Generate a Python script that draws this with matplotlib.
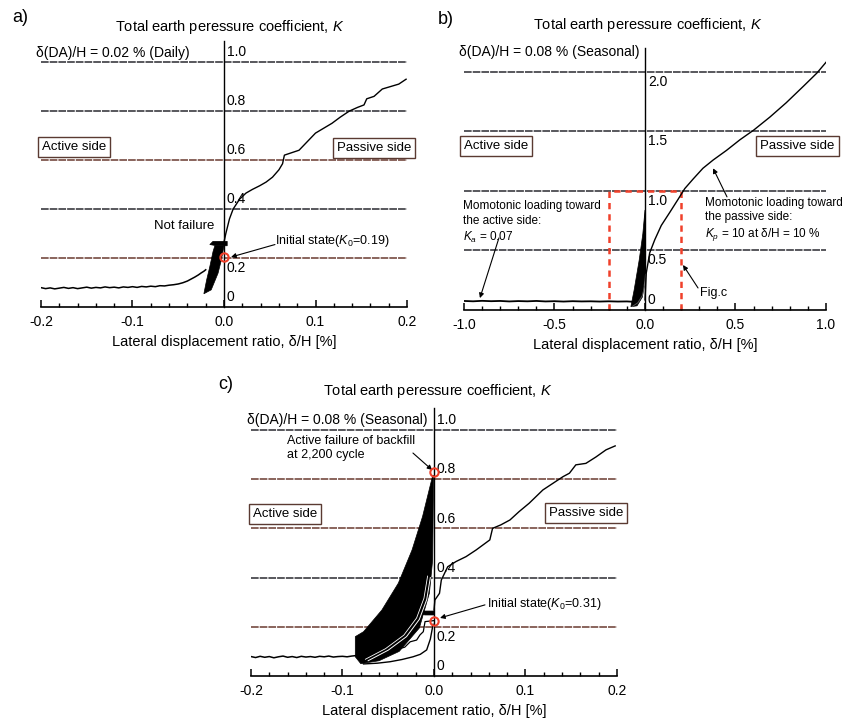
import numpy as np
import matplotlib
matplotlib.use("Agg")
import matplotlib.pyplot as plt

plt.rcParams['font.family'] = ['Liberation Sans', 'DejaVu Sans']
plt.rcParams['mathtext.fontset'] = 'custom'
plt.rcParams['mathtext.rm'] = 'Liberation Sans'
plt.rcParams['mathtext.it'] = 'Liberation Sans:italic'

W, H = 845, 724

# ---------------- data ----------------
# panel a: dDA/H = 0.02 %
grid_a = [0.2, 0.4, 0.6, 0.8, 1.0]
ylab_a = ['0', '0.2', '0.4', '0.6', '0.8', '1.0']
act_a_x = [-0.200, -0.195, -0.190, -0.185, -0.180, -0.175, -0.170, -0.165, -0.160, -0.155,
           -0.150, -0.145, -0.140, -0.135, -0.130, -0.125, -0.120, -0.115, -0.110, -0.105,
           -0.100, -0.095, -0.090, -0.085, -0.080, -0.075, -0.070, -0.065, -0.060, -0.055,
           -0.050, -0.045, -0.040, -0.036, -0.032, -0.028, -0.025, -0.022, -0.020]
act_a_k = [0.079, 0.075, 0.078, 0.074, 0.077, 0.080, 0.076, 0.079, 0.075, 0.078,
           0.081, 0.077, 0.080, 0.078, 0.082, 0.079, 0.081, 0.078, 0.082, 0.080,
           0.083, 0.080, 0.084, 0.082, 0.085, 0.083, 0.087, 0.086, 0.089, 0.091,
           0.094, 0.099, 0.106, 0.114, 0.122, 0.131, 0.139, 0.146, 0.152]
blob_a_x = [-0.022, -0.019, -0.0155, -0.012, -0.010, 0.0, -0.003, -0.0065, -0.014, -0.022]
blob_a_k = [0.054, 0.110, 0.165, 0.226, 0.250, 0.250, 0.190, 0.138, 0.070, 0.054]
flag_a_x = [-0.0155, -0.012, 0.0035, 0.0035, -0.008]
flag_a_k = [0.255, 0.268, 0.268, 0.250, 0.250]
pass_a_x = [0.000, 0.002, 0.004, 0.006, 0.010, 0.017, 0.024, 0.031, 0.039, 0.046, 0.053,
            0.060, 0.064, 0.066, 0.074, 0.082, 0.091, 0.100, 0.109, 0.118, 0.127, 0.137,
            0.146, 0.153, 0.156, 0.164, 0.173, 0.182, 0.191, 0.199]
pass_a_k = [0.265, 0.300, 0.330, 0.360, 0.400, 0.440, 0.465, 0.480, 0.495, 0.510, 0.530,
            0.560, 0.585, 0.620, 0.630, 0.640, 0.675, 0.710, 0.730, 0.750, 0.775, 0.800,
            0.815, 0.825, 0.850, 0.860, 0.890, 0.900, 0.910, 0.930]

# panel b: dDA/H = 0.08 %, monotonic range
grid_b = [0.5, 1.0, 1.5, 2.0]
ylab_b = ['0', '0.5', '1.0', '1.5', '2.0']
act_b_x = [-1.00, -0.95, -0.90, -0.85, -0.80, -0.75, -0.70, -0.65, -0.60, -0.55, -0.50,
           -0.45, -0.40, -0.35, -0.30, -0.25, -0.20, -0.15, -0.10, -0.075]
act_b_k = [0.076, 0.073, 0.077, 0.074, 0.076, 0.072, 0.075, 0.073, 0.076, 0.072, 0.074,
           0.071, 0.074, 0.072, 0.073, 0.071, 0.073, 0.071, 0.072, 0.070]
blob_b_x = [-0.078, -0.060, -0.032, -0.012, 0.000, 0.003, 0.001, -0.014, -0.044, -0.078]
blob_b_k = [0.028, 0.168, 0.420, 0.640, 0.840, 0.550, 0.310, 0.110, 0.035, 0.028]
loop_b_x = [-0.070, -0.040, -0.015, -0.002, 0.004]
loop_b_k = [0.030, 0.060, 0.120, 0.200, 0.300]
pass_b_x = [0.000, 0.007, 0.026, 0.054, 0.090, 0.137, 0.183, 0.220, 0.266, 0.320, 0.377,
            0.450, 0.525, 0.600, 0.690, 0.780, 0.876, 0.950, 1.000]
pass_b_k = [0.085, 0.310, 0.480, 0.590, 0.710, 0.820, 0.930, 1.020, 1.100, 1.190, 1.260,
            1.340, 1.430, 1.510, 1.620, 1.740, 1.880, 1.990, 2.080]
figc_box_x = [-0.2, -0.2, 0.2, 0.2]
figc_box_k = [0.0, 1.0, 1.0, 0.0]

# panel c: dDA/H = 0.08 %, zoom
grid_c = [0.2, 0.4, 0.6, 0.8, 1.0]
ylab_c = ['0', '0.2', '0.4', '0.6', '0.8', '1.0']
act_c_x = [-0.200, -0.195, -0.190, -0.185, -0.180, -0.175, -0.170, -0.165, -0.160, -0.155,
           -0.150, -0.145, -0.140, -0.135, -0.130, -0.125, -0.120, -0.115, -0.110, -0.105,
           -0.100, -0.095, -0.090, -0.085]
act_c_k = [0.079, 0.075, 0.080, 0.076, 0.079, 0.074, 0.078, 0.081, 0.076, 0.079, 0.075,
           0.080, 0.077, 0.079, 0.076, 0.080, 0.078, 0.081, 0.077, 0.079, 0.080, 0.078,
           0.081, 0.083]
blob_c_x = [-0.0014, -0.0125, -0.024, -0.039, -0.057, -0.077, -0.0860, -0.0860, -0.080,
            -0.060, -0.038, -0.016, -0.0050, -0.0015, -0.0004]
blob_c_k = [0.815, 0.648, 0.512, 0.377, 0.268, 0.180, 0.160, 0.078, 0.050,
            0.062, 0.100, 0.195, 0.337, 0.470, 0.815]
white_c_x = [-0.072, -0.050, -0.030, -0.016, -0.008, -0.004]
white_c_k = [0.062, 0.105, 0.160, 0.230, 0.310, 0.400]
lower_c_x = [-0.001, -0.004, -0.008, -0.015, -0.023, -0.035, -0.048, -0.062, -0.077]
lower_c_k = [0.210, 0.150, 0.106, 0.088, 0.078, 0.067, 0.058, 0.052, 0.049]
init_c_x = [0.000, -0.0098, -0.0117, -0.0153, -0.019, -0.026, -0.032, -0.041, -0.050]
init_c_k = [0.225, 0.221, 0.180, 0.167, 0.146, 0.139, 0.117, 0.108, 0.095]
flag_c_x = [-0.0145, -0.012, 0.000, 0.000, -0.010]
flag_c_k = [0.253, 0.264, 0.264, 0.248, 0.248]
pass_c_x = [0.000, 0.001, 0.006, 0.008, 0.015, 0.024, 0.035, 0.046, 0.061, 0.064, 0.073,
            0.083, 0.093, 0.104, 0.119, 0.130, 0.141, 0.148, 0.155, 0.166, 0.177, 0.188,
            0.198]
pass_c_k = [0.268, 0.309, 0.336, 0.390, 0.444, 0.465, 0.485, 0.512, 0.553, 0.600, 0.614,
            0.634, 0.668, 0.702, 0.756, 0.783, 0.810, 0.824, 0.858, 0.864, 0.890, 0.919,
            0.935]

xt_small = [-0.2, -0.1, 0.0, 0.1, 0.2]
xt_small_lab = ['-0.2', '-0.1', '0.0', '0.1', '0.2']
xt_big = [-1.0, -0.5, 0.0, 0.5, 1.0]
xt_big_lab = ['-1.0', '-0.5', '0.0', '0.5', '1.0']

TITLE = 'Total earth peressure coefficient, $K$'
XLAB = 'Lateral displacement ratio, δ/H [%]'
RED = '#f0402a'
GRIDDARK = '#2a2a30'
GRIDBROWN = '#6a3a30'
BOXEDGE = '#5a3a32'


def fx(p):
    return p / W


def fy(p):
    return 1 - p / H


def make_axes(fig, x0, x1, ybot, ytop, xlim, ytopval, xt, xtl, minor):
    ax = fig.add_axes([x0 / W, 1 - ybot / H, (x1 - x0) / W, (ybot - ytop) / H])
    ax.set_xlim(*xlim)
    ax.set_ylim(0, ytopval)
    ax.spines['top'].set_visible(False)
    ax.spines['right'].set_visible(False)
    ax.spines['left'].set_position(('data', 0))
    ax.spines['left'].set_linewidth(1.0)
    ax.spines['bottom'].set_linewidth(1.2)
    ax.set_yticks([])
    ax.set_xticks(xt)
    ax.set_xticklabels(xtl, fontsize=10)
    ax.set_xticks(minor, minor=True)
    ax.tick_params(axis='x', which='major', direction='in', length=5, width=1.1, pad=6)
    ax.tick_params(axis='x', which='minor', direction='in', length=3, width=1.0)
    ax.patch.set_alpha(0)
    return ax


def hgrid(ax, levels, colors):
    for k, c in zip(levels, colors):
        ax.axhline(k, color=c, lw=1.1, ls=(0, (5, 0.7)), zorder=1)


def ylabels(ax, labels, below):
    for lab, b in zip(labels, below):
        k = float(lab)
        ax.annotate(lab, xy=(0, k), xytext=(2, -2 if b else 2), textcoords='offset points',
                    ha='left', va='top' if b else 'bottom', fontsize=10)


def side_boxes(ax, act_xy, pas_xy):
    kw = dict(fontsize=9.5, ha='center', va='center', clip_on=False,
              bbox=dict(boxstyle='square,pad=0.3', fc='white', ec=BOXEDGE, lw=1.0))
    ax.text(act_xy[0], act_xy[1], 'Active side', **kw)
    ax.text(pas_xy[0], pas_xy[1], 'Passive side', **kw)


arrow_kw = dict(arrowstyle='-|>', color='black', lw=0.8, mutation_scale=7,
                shrinkA=0, shrinkB=0)

fig = plt.figure(figsize=(W / 100, H / 100), dpi=100)

# ---------------- panel a ----------------
minor_s = np.arange(-0.2, 0.2001, 0.02)
ax = make_axes(fig, 41, 407, 307, 41, (-0.2, 0.2), 1.086, xt_small, xt_small_lab, minor_s)
hgrid(ax, grid_a, [GRIDBROWN, GRIDDARK, GRIDBROWN, GRIDDARK, GRIDDARK])
ylabels(ax, ylab_a, [False, True, False, False, False, False])
ax.plot(act_a_x, act_a_k, color='black', lw=1.1, zorder=3)
ax.fill(blob_a_x, blob_a_k, color='black', lw=0.5, zorder=3)
ax.fill(flag_a_x, flag_a_k, color='black', lw=0.5, zorder=3)
ax.plot(pass_a_x, pass_a_k, color='black', lw=1.0, zorder=3)
ax.plot([0], [0.205], 'o', mfc='none', mec=RED, mew=1.5, ms=6, zorder=5)
ax.text(-0.0437, 0.331, 'Not failure', fontsize=9.5, ha='center', va='center')
ax.text(0.0557, 0.269, 'Initial state($K_0$=0.19)', fontsize=9, ha='left', va='center')
ax.annotate('', xy=(0.0077, 0.204), xytext=(0.0557, 0.255), arrowprops=arrow_kw)
ax.text(-0.2055, 1.037, 'δ(DA)/H = 0.02 % (Daily)', fontsize=10, ha='left', va='center',
        clip_on=False)
side_boxes(ax, (-0.164, 0.653), (0.164, 0.651))
ax.set_xlabel(XLAB, fontsize=10.5, labelpad=4)
fig.text(fx(230), fy(27), TITLE, fontsize=10.5, ha='center', va='center')
fig.text(fx(12), fy(17), 'a)', fontsize=13, ha='left', va='center')

# ---------------- panel b ----------------
minor_b = np.arange(-1.0, 1.001, 0.1)
ax = make_axes(fig, 464, 826, 310, 48, (-1.0, 1.0), 2.2, xt_big, xt_big_lab, minor_b)
hgrid(ax, grid_b, [GRIDDARK, GRIDDARK, GRIDDARK, GRIDDARK])
ylabels(ax, ylab_b, [False, True, True, True, True])
ax.plot(figc_box_x, figc_box_k, color=RED, lw=1.8, ls=(0, (2.5, 2)), zorder=2, clip_on=False)
ax.plot(act_b_x, act_b_k, color='black', lw=1.3, zorder=3)
ax.fill(blob_b_x, blob_b_k, color='black', lw=0.5, zorder=3)
ax.plot(loop_b_x, loop_b_k, color='#555555', lw=0.7, zorder=3)
ax.plot(pass_b_x, pass_b_k, color='black', lw=1.0, zorder=3)
ax.text(-1.006, 0.92, 'Momotonic loading toward\nthe active side:\n$K_a$ = 0.07',
        fontsize=8.5, ha='left', va='top', linespacing=1.25)
ax.annotate('', xy=(-0.912, 0.10), xytext=(-0.807, 0.605), arrowprops=arrow_kw)
ax.text(0.331, 0.95, 'Momotonic loading toward\nthe passive side:\n$K_p$ = 10 at δ/H = 10 %',
        fontsize=8.5, ha='left', va='top', linespacing=1.25, clip_on=False)
ax.annotate('', xy=(0.376, 1.19), xytext=(0.453, 0.95), arrowprops=arrow_kw)
ax.text(0.304, 0.143, 'Fig.c', fontsize=9, ha='left', va='center')
ax.annotate('', xy=(0.21, 0.378), xytext=(0.293, 0.185), arrowprops=arrow_kw)
ax.text(-1.028, 2.17, 'δ(DA)/H = 0.08 % (Seasonal)', fontsize=10, ha='left', va='center',
        clip_on=False)
side_boxes(ax, (-0.823, 1.374), (0.843, 1.378))
ax.set_xlabel(XLAB, fontsize=10.5, labelpad=4)
fig.text(fx(648), fy(25), TITLE, fontsize=10.5, ha='center', va='center')
fig.text(fx(438), fy(20), 'b)', fontsize=13, ha='left', va='center')

# ---------------- panel c ----------------
ax = make_axes(fig, 251, 617, 676, 408, (-0.2, 0.2), 1.089, xt_small, xt_small_lab, minor_s)
hgrid(ax, grid_c, [GRIDBROWN, GRIDDARK, GRIDBROWN, GRIDBROWN, GRIDDARK])
ylabels(ax, ylab_c, [False, True, False, False, False, False])
ax.plot(act_c_x, act_c_k, color='black', lw=1.1, zorder=3)
ax.fill(blob_c_x, blob_c_k, color='black', lw=0.5, zorder=3)
ax.plot(white_c_x, white_c_k, color='white', lw=0.7, zorder=4)
ax.plot([x - 0.003 for x in white_c_x], [k + 0.006 for k in white_c_k],
        color='white', lw=0.6, zorder=4)
ax.plot(lower_c_x, lower_c_k, color='black', lw=1.0, zorder=3)
ax.plot(init_c_x, init_c_k, color='black', lw=0.9, zorder=3)
ax.fill(flag_c_x, flag_c_k, color='black', lw=0.5, zorder=3)
ax.plot(pass_c_x, pass_c_k, color='black', lw=1.0, zorder=3)
ax.plot([0], [0.224], 'o', mfc='none', mec=RED, mew=1.5, ms=6, zorder=5)
ax.plot([0], [0.830], 'o', mfc='none', mec=RED, mew=1.5, ms=6, zorder=5)
ax.text(-0.161, 0.927, 'Active failure of backfill\nat 2,200 cycle', fontsize=9,
        ha='left', va='center', linespacing=1.2)
ax.annotate('', xy=(-0.002, 0.837), xytext=(-0.023, 0.906), arrowprops=arrow_kw)
ax.text(0.058, 0.293, 'Initial state($K_0$=0.31)', fontsize=9, ha='left', va='center')
ax.annotate('', xy=(0.0066, 0.236), xytext=(0.0557, 0.289), arrowprops=arrow_kw)
ax.text(-0.204, 1.042, 'δ(DA)/H = 0.08 % (Seasonal)', fontsize=10, ha='left', va='center',
        clip_on=False)
side_boxes(ax, (-0.163, 0.659), (0.166, 0.663))
ax.set_xlabel(XLAB, fontsize=10.5, labelpad=4)
fig.text(fx(438), fy(391), TITLE, fontsize=10.5, ha='center', va='center')
fig.text(fx(218), fy(385), 'c)', fontsize=13, ha='left', va='center')

fig.savefig('out.png', dpi=100)
